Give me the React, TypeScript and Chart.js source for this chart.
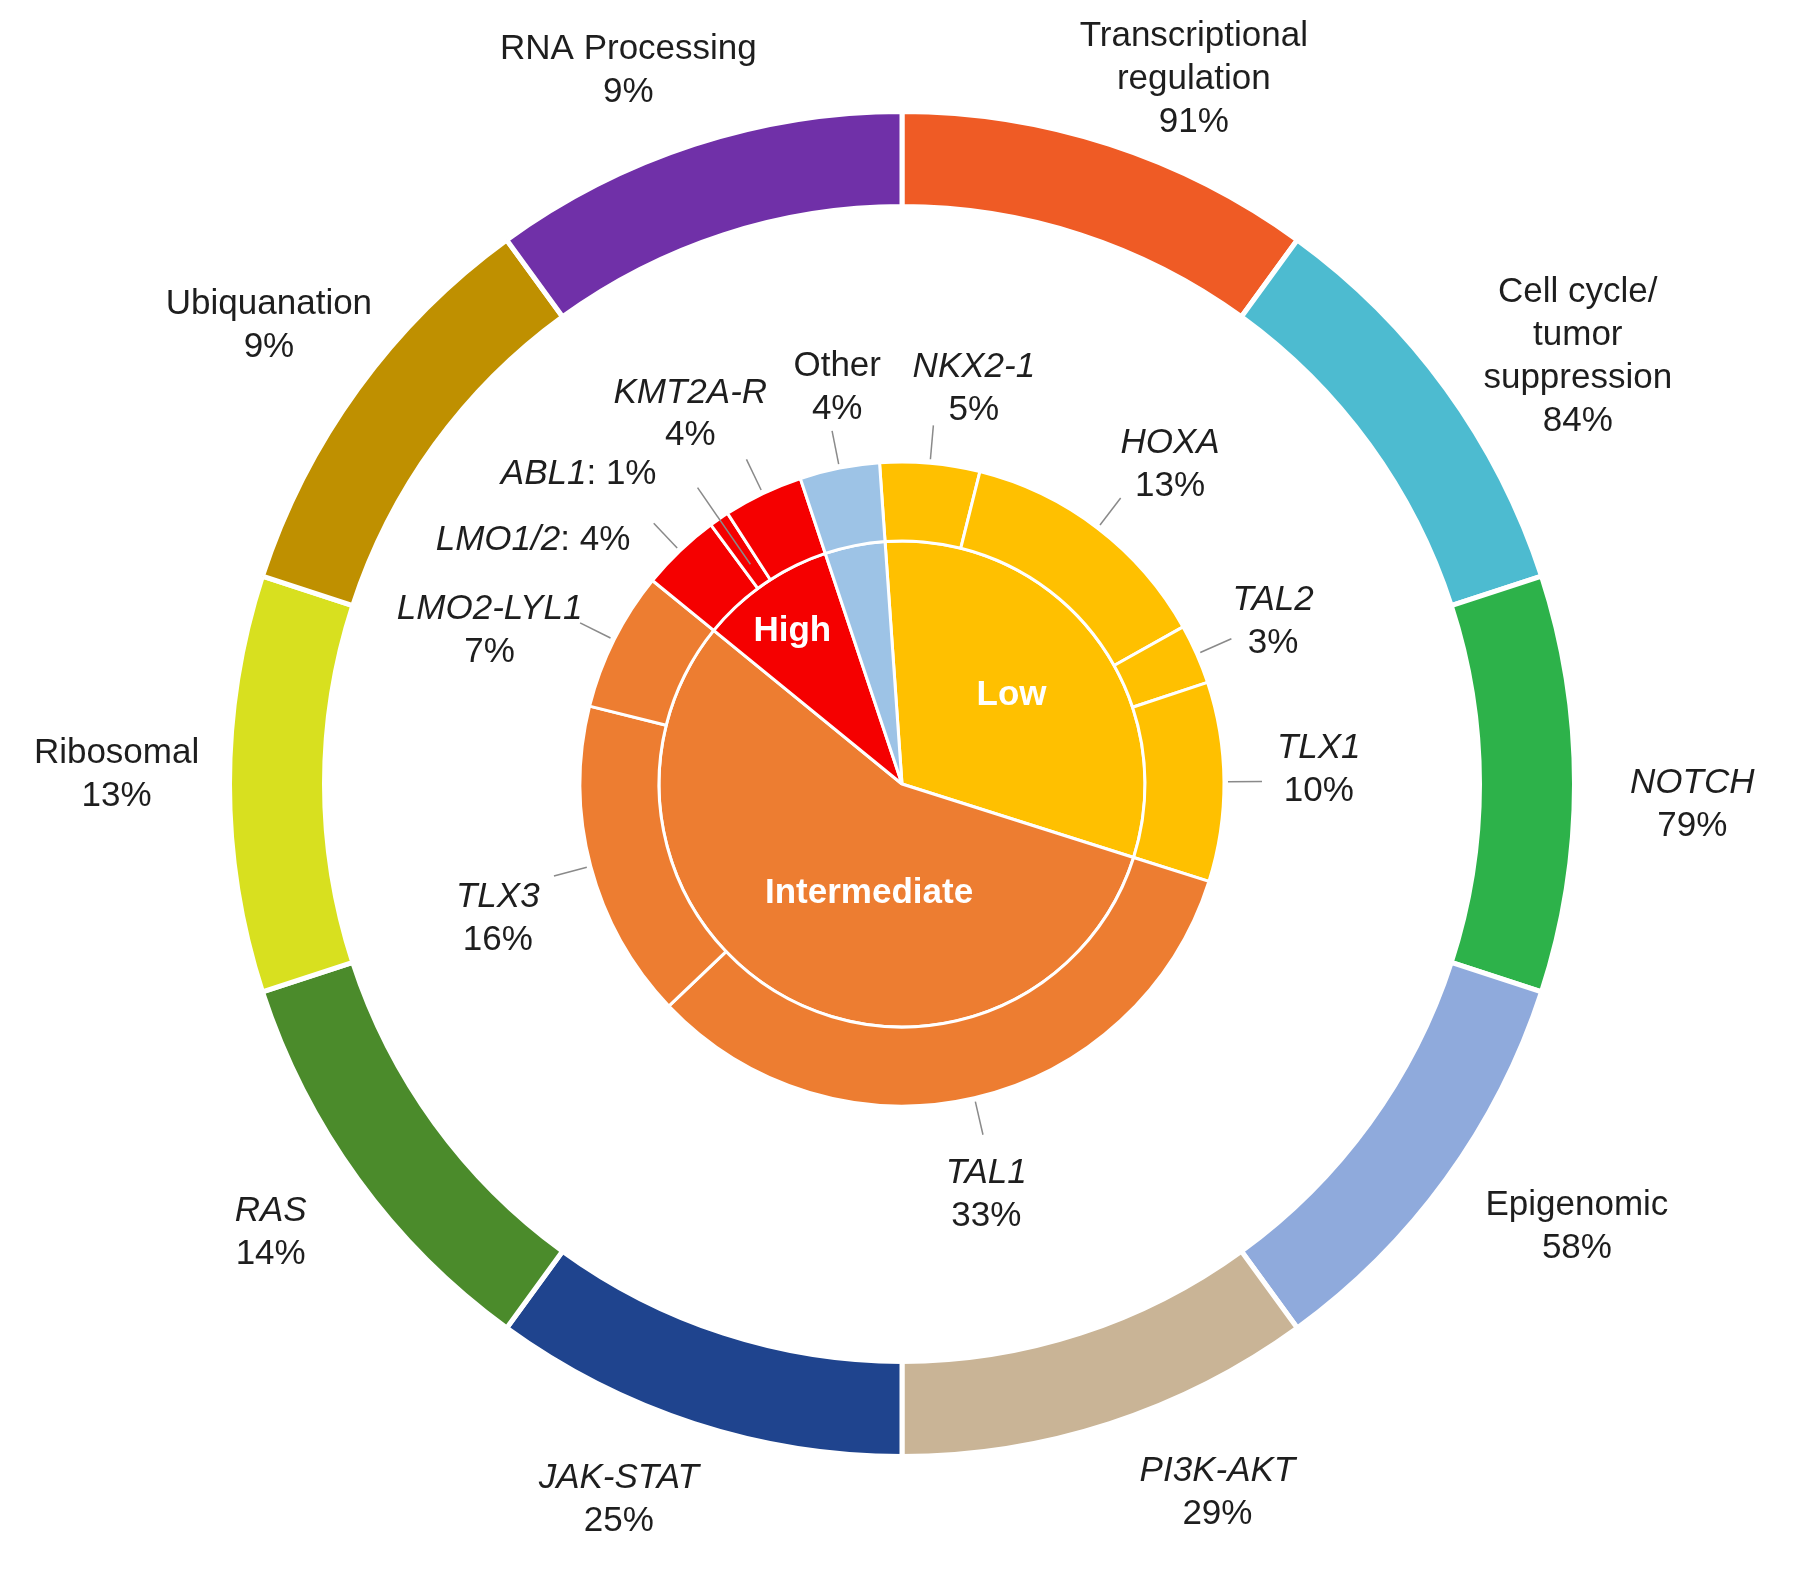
import React, { useEffect, useRef } from "react";
import { Chart, registerables } from "chart.js";

Chart.register(...registerables);

// ---------- data ----------
const pathwayLabelLines: string[][] = [
  ["Transcriptional", "regulation"],
  ["Cell cycle/", "tumor", "suppression"],
  ["NOTCH"],
  ["Epigenomic"],
  ["PI3K-AKT"],
  ["JAK-STAT"],
  ["RAS"],
  ["Ribosomal"],
  ["Ubiquanation"],
  ["RNA Processing"],
];
const pathwayPct = [91, 84, 79, 58, 29, 25, 14, 13, 9, 9];
const pathwayItalic = [false, false, true, false, true, true, true, false, false, false];
const pathwaySegments = [1, 1, 1, 1, 1, 1, 1, 1, 1, 1];
const pathwayColors = [
  "#EF5B25", "#4DBBD0", "#2DB24A", "#8FAADC", "#C9B496",
  "#1F448E", "#4B8B2B", "#D8E01F", "#BF9000", "#7030A8",
];

const subtypeNames = ["NKX2-1", "HOXA", "TAL2", "TLX1", "TAL1", "TLX3", "LMO2-LYL1", "LMO1/2", "ABL1", "KMT2A-R", "Other"];
const subtypePct = [5, 13, 3, 10, 33, 16, 7, 4, 1, 4, 4];
const subtypeItalic = [true, true, true, true, true, true, true, true, true, true, false];
const subtypeInline = [false, false, false, false, false, false, false, true, true, false, false];

const riskNames = ["Low", "Intermediate", "High", ""];
const riskPct = [31, 56, 9, 4];

const LOW = "#FFC000";
const INTERMEDIATE = "#ED7D31";
const HIGH = "#F50000";
const OTHER = "#9DC3E6";
const riskColors = [LOW, INTERMEDIATE, HIGH, OTHER];
const subtypeColors = [LOW, LOW, LOW, LOW, INTERMEDIATE, INTERMEDIATE, INTERMEDIATE, HIGH, HIGH, HIGH, OTHER];

// ---------- layout (not data) ----------
const PIE_ROTATION = -4;
const outerLabelShiftDeg = [4.5, 3.7, 1.5, -2.7, -6, 3.6, 0.6, 0.7, -0.1, -3];
const outerLabelGap = [90, 127, 118, 135, 103, 97, 102, 113, 109, 91];
const subtypeLabelShiftDeg = [5.3, 2.6, 0.2, -1.6, 1.4, -3.6, -6.2, -13, -11.6, -4.2, 1.9];
const subtypeLabelGap = [80, 95, 83, 95, 97, 104, 118, 120, 126, 104, 79];
const subtypeLeaderStart = [4, 4, 4, 4, 4, 4, 4, 4, -55, 4, 4];
const riskLabelShiftDeg = [-0.8, -11.6, -1.1];
const riskLabelRadius = [141, 114, 188];

const FONT = '"Liberation Sans", Arial, Helvetica, sans-serif';
const FONT_SIZE = 35;
const LINE_H = 43;
const TEXT_COLOR = "#1E1E1E";

const rad = (d: number) => (d * Math.PI) / 180;

function setFont(ctx: CanvasRenderingContext2D, italic: boolean, bold = false) {
  ctx.font = `${italic ? "italic " : ""}${bold ? "bold " : ""}${FONT_SIZE}px ${FONT}`;
}

function drawBlock(
  ctx: CanvasRenderingContext2D,
  nameLines: string[],
  italic: boolean,
  pct: string,
  cx: number,
  cy: number
) {
  const lines = [...nameLines, pct];
  const n = lines.length;
  ctx.textAlign = "center";
  ctx.textBaseline = "middle";
  ctx.fillStyle = TEXT_COLOR;
  lines.forEach((t, i) => {
    setFont(ctx, i < nameLines.length ? italic : false);
    ctx.fillText(t, cx, cy + (i - (n - 1) / 2) * LINE_H);
  });
}

function drawInline(ctx: CanvasRenderingContext2D, name: string, italic: boolean, rest: string, cx: number, cy: number) {
  setFont(ctx, italic);
  const w1 = ctx.measureText(name).width;
  setFont(ctx, false);
  const w2 = ctx.measureText(rest).width;
  const x0 = cx - (w1 + w2) / 2;
  ctx.textAlign = "left";
  ctx.textBaseline = "middle";
  ctx.fillStyle = TEXT_COLOR;
  setFont(ctx, italic);
  ctx.fillText(name, x0, cy);
  setFont(ctx, false);
  ctx.fillText(rest, x0 + w1, cy);
}

const labelPlugin = {
  id: "ringLabels",
  afterDatasetsDraw(chart: any) {
    const ctx: CanvasRenderingContext2D = chart.ctx;
    ctx.save();

    // outer pathway ring labels
    chart.getDatasetMeta(0).data.forEach((arc: any, i: number) => {
      const p = arc.getProps(["x", "y", "startAngle", "endAngle", "outerRadius"], true);
      const a = (p.startAngle + p.endAngle) / 2 + rad(outerLabelShiftDeg[i]);
      const r = p.outerRadius + outerLabelGap[i];
      drawBlock(ctx, pathwayLabelLines[i], pathwayItalic[i], pathwayPct[i] + "%", p.x + Math.cos(a) * r, p.y + Math.sin(a) * r);
    });

    // subtype labels + leaders
    chart.getDatasetMeta(2).data.forEach((arc: any, i: number) => {
      const p = arc.getProps(["x", "y", "startAngle", "endAngle", "outerRadius"], true);
      const mid = (p.startAngle + p.endAngle) / 2;
      const r0 = p.outerRadius + subtypeLeaderStart[i];
      const r1 = p.outerRadius + 38;
      ctx.strokeStyle = "#8a8a8a";
      ctx.lineWidth = 1.5;
      ctx.beginPath();
      ctx.moveTo(p.x + Math.cos(mid) * r0, p.y + Math.sin(mid) * r0);
      ctx.lineTo(p.x + Math.cos(mid) * r1, p.y + Math.sin(mid) * r1);
      ctx.stroke();

      const a = mid + rad(subtypeLabelShiftDeg[i]);
      const r = p.outerRadius + subtypeLabelGap[i];
      const cx = p.x + Math.cos(a) * r;
      const cy = p.y + Math.sin(a) * r;
      if (subtypeInline[i]) {
        drawInline(ctx, subtypeNames[i], subtypeItalic[i], ": " + subtypePct[i] + "%", cx, cy);
      } else {
        drawBlock(ctx, [subtypeNames[i]], subtypeItalic[i], subtypePct[i] + "%", cx, cy);
      }
    });

    // risk group labels
    chart.getDatasetMeta(3).data.forEach((arc: any, i: number) => {
      if (!riskNames[i]) return;
      const p = arc.getProps(["x", "y", "startAngle", "endAngle"], true);
      const a = (p.startAngle + p.endAngle) / 2 + rad(riskLabelShiftDeg[i]);
      const r = riskLabelRadius[i];
      ctx.fillStyle = "#FFFFFF";
      ctx.textAlign = "center";
      ctx.textBaseline = "middle";
      setFont(ctx, false, true);
      ctx.fillText(riskNames[i], p.x + Math.cos(a) * r, p.y + Math.sin(a) * r);
    });

    ctx.restore();
  },
};

export default function App() {
  const canvasRef = useRef<HTMLCanvasElement | null>(null);

  useEffect(() => {
    if (!canvasRef.current) return;
    const chart = new Chart(canvasRef.current, {
      type: "doughnut",
      data: {
        labels: subtypeNames,
        datasets: [
          {
            label: "Pathways",
            data: pathwaySegments,
            backgroundColor: pathwayColors,
            borderColor: "#FFFFFF",
            borderWidth: 5,
            hoverBorderWidth: 5,
            weight: 95,
          } as any,
          {
            label: "spacer",
            data: [1],
            backgroundColor: "rgba(0,0,0,0)",
            borderWidth: 0,
            hoverBorderWidth: 0,
            weight: 255.5,
          } as any,
          {
            label: "Subtypes",
            data: subtypePct,
            backgroundColor: subtypeColors,
            borderColor: "#FFFFFF",
            borderWidth: 3,
            hoverBorderWidth: 3,
            rotation: PIE_ROTATION,
            weight: 79,
          } as any,
          {
            label: "Risk",
            data: riskPct,
            backgroundColor: riskColors,
            borderColor: "#FFFFFF",
            borderWidth: 3,
            hoverBorderWidth: 3,
            rotation: PIE_ROTATION,
            weight: 243,
          } as any,
        ],
      },
      options: {
        responsive: false,
        devicePixelRatio: 1,
        animation: false,
        events: [],
        cutout: 0,
        layout: { padding: { left: 227, right: 223, top: 109, bottom: 113 } },
        plugins: {
          legend: { display: false },
          tooltip: { enabled: false },
        },
      } as any,
      plugins: [labelPlugin],
    });
    return () => chart.destroy();
  }, []);

  return (
    <div style={{ position: "fixed", left: 0, top: 0, width: 1800, height: 1572, background: "#FFFFFF" }}>
      <canvas ref={canvasRef} width={1800} height={1572} style={{ width: 1800, height: 1572, display: "block" }} />
    </div>
  );
}
